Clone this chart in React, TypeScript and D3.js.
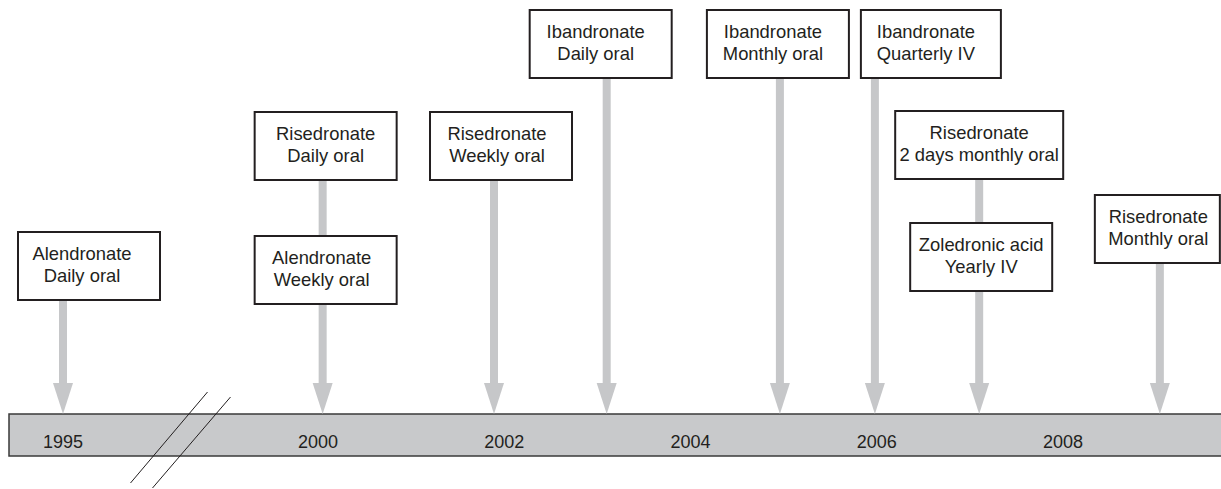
import * as d3 from 'd3';

// Timeline values
const yearTicks = [1995, 2000, 2002, 2004, 2006, 2008];
const drugs = ['Alendronate', 'Risedronate', 'Alendronate', 'Risedronate', 'Ibandronate', 'Ibandronate', 'Ibandronate', 'Risedronate', 'Zoledronic acid', 'Risedronate'];
const regimens = ['Daily oral', 'Daily oral', 'Weekly oral', 'Weekly oral', 'Daily oral', 'Monthly oral', 'Quarterly IV', '2 days monthly oral', 'Yearly IV', 'Monthly oral'];
const launchDates = [1995, 2000.05, 2000.05, 2001.89, 2003.1, 2004.96, 2005.98, 2007.1, 2007.1, 2009.04];

// Box placement (layout only): offset from arrow, top, width, text shift
const boxLayout = [
  { dx: -45, top: 232, w: 142, tdx: -7 },
  { dx: -68, top: 112, w: 142, tdx: 0 },
  { dx: -68, top: 236, w: 142, tdx: -4 },
  { dx: -64, top: 112, w: 142, tdx: -4 },
  { dx: -77, top: 10, w: 142, tdx: -5 },
  { dx: -73, top: 10, w: 142, tdx: -5 },
  { dx: -14, top: 10, w: 140, tdx: -5 },
  { dx: -84, top: 111, w: 168, tdx: 0 },
  { dx: -69, top: 223, w: 142, tdx: 0 },
  { dx: -65, top: 195, w: 125, tdx: 1 },
];

const W = 1221;
const H = 489;
const boxH = 68;
const barTop = 414;
const barBottom = 456;
const headH = 31;
const headW = 20;
const stemW = 8;
const grey = '#c6c7c9';
const ink = '#231f20';
const font = "'Liberation Sans', Arial, sans-serif";

function App() {
  // piecewise scale: 1995 sits left of the axis break
  const x = d3.scaleLinear().domain([1995, 2000, 2008]).range([63, 318, 1063]);

  const events = drugs.map((d, i) => ({ drug: d, regimen: regimens[i], date: launchDates[i], ...boxLayout[i] }));
  const byDate = d3.group(events, (e) => e.date);
  const stems = Array.from(byDate, ([date, evs]) => ({
    date,
    top: d3.min(evs, (e) => e.top + boxH) as number,
  }));

  const breakX = (x(1995) + x(2000)) / 2;

  return (
    <svg width={W} height={H} style={{ position: 'absolute', left: 0, top: 0, background: '#fff' }} fontFamily={font}>
      {/* timeline bar */}
      <rect x={9} y={barTop} width={W + 20} height={barBottom - barTop} fill="#c8c9cb" stroke="#3a3a3a" strokeWidth={1.5} />
      {yearTicks.map((t) => (
        <text key={t} x={x(t)} y={448} textAnchor="middle" fontSize={18} fill={ink}>
          {t}
        </text>
      ))}

      {/* axis break marks */}
      <line x1={breakX + 17} y1={392} x2={breakX - 60} y2={483} stroke={ink} strokeWidth={1} />
      <line x1={breakX + 40} y1={397} x2={breakX - 38} y2={488} stroke={ink} strokeWidth={1} />

      {/* arrows */}
      {stems.map((s) => {
        const cx = x(s.date);
        const headTop = barTop - headH;
        return (
          <g key={s.date}>
            <rect x={cx - stemW / 2} y={s.top} width={stemW} height={headTop - s.top + 1} fill={grey} />
            <path d={`M${cx - headW / 2},${headTop}L${cx + headW / 2},${headTop}L${cx},${barTop}Z`} fill={grey} />
          </g>
        );
      })}

      {/* labelled boxes */}
      {events.map((e, i) => {
        const left = x(e.date) + e.dx;
        const cx = left + e.w / 2 + e.tdx;
        return (
          <g key={i}>
            <rect x={left} y={e.top} width={e.w} height={boxH} fill="#fff" stroke={ink} strokeWidth={2} />
            <text x={cx} y={e.top + 28} textAnchor="middle" fontSize={18.4} fill={ink}>
              {e.drug}
            </text>
            <text x={cx} y={e.top + 50} textAnchor="middle" fontSize={18.4} fill={ink}>
              {e.regimen}
            </text>
          </g>
        );
      })}
    </svg>
  );
}

export default App;
